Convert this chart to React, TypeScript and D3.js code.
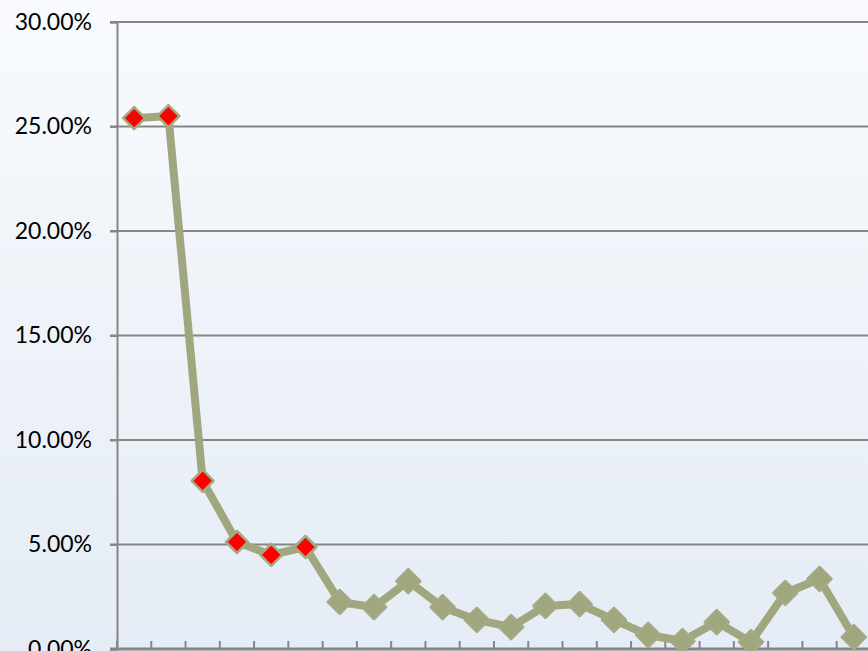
import React, { useEffect, useRef } from 'react';
import * as d3 from 'd3';

// categories are unlabeled in the picture, just indices
const categories = d3.range(1, 23).map((i) => `c${i}`);
const values = [
	25.4, 25.5, 8.04, 5.12, 4.5, 4.88, 2.25, 2.0, 3.25, 2.0, 1.39, 1.05, 2.06, 2.15, 1.39, 0.67,
	0.38, 1.29, 0.33, 2.68, 3.35, 0.57,
];
const highlighted = [true, true, true, true, true, true];
const yTicks = [0, 5, 10, 15, 20, 25, 30];

function App() {
	const ref = useRef<SVGSVGElement>(null);

	useEffect(() => {
		const width = 868;
		const height = 651;
		const margin = { top: 22, left: 117, bottom: 2 };

		const svg = d3.select(ref.current);
		svg.selectAll('*').remove();

		// background gradient
		const defs = svg.append('defs');
		const grad = defs
			.append('linearGradient')
			.attr('id', 'bg')
			.attr('x1', 0)
			.attr('y1', 0)
			.attr('x2', 0)
			.attr('y2', 1);
		grad.append('stop').attr('offset', '0%').attr('stop-color', '#f8fafd');
		grad.append('stop').attr('offset', '100%').attr('stop-color', '#e5ecf5');
		svg.append('rect').attr('width', width).attr('height', height).attr('fill', 'url(#bg)');

		// Scales
		const xscale = d3
			.scaleBand()
			.domain(categories)
			.range([margin.left, margin.left + 34.27 * categories.length]);

		const yscale = d3
			.scaleLinear()
			.domain([0, 30])
			.range([height - margin.bottom, margin.top]);

		// gridlines
		svg
			.append('g')
			.selectAll('line')
			.data(yTicks.filter((t) => t > 0))
			.enter()
			.append('line')
			.attr('x1', margin.left - 7)
			.attr('x2', width)
			.attr('y1', (d) => yscale(d))
			.attr('y2', (d) => yscale(d))
			.attr('stroke', '#868686')
			.attr('stroke-width', 2);

		// y axis
		const leftAxis = d3
			.axisLeft(yscale)
			.tickValues(yTicks)
			.tickSize(7)
			.tickPadding(18)
			.tickFormat((d) => `${(+d).toFixed(2)}%`);

		const yAxisG = svg
			.append('g')
			.attr('transform', `translate(${margin.left}, 0)`)
			.call(leftAxis);
		yAxisG.select('.domain').attr('stroke', '#868686').attr('stroke-width', 2);
		yAxisG.selectAll('.tick line').attr('stroke', '#868686').attr('stroke-width', 2);
		yAxisG
			.selectAll('.tick text')
			.attr('fill', '#000')
			.style('font-family', 'Lato, sans-serif')
			.style('font-size', '23px');

		// x axis, ticks pointing up, no labels
		const xTickVals = d3.range(categories.length + 1).map((i) => margin.left + i * xscale.step());
		const xAxisG = svg.append('g');
		xAxisG
			.append('line')
			.attr('x1', margin.left - 7)
			.attr('x2', width)
			.attr('y1', yscale(0))
			.attr('y2', yscale(0))
			.attr('stroke', '#868686')
			.attr('stroke-width', 3);
		xAxisG
			.selectAll('line.tick')
			.data(xTickVals)
			.enter()
			.append('line')
			.attr('class', 'tick')
			.attr('x1', (d) => d)
			.attr('x2', (d) => d)
			.attr('y1', yscale(0))
			.attr('y2', yscale(0) - 8)
			.attr('stroke', '#868686')
			.attr('stroke-width', 2);

		// Line
		const line = d3
			.line<number>()
			.x((d, i) => (xscale(categories[i]) as number) + xscale.bandwidth() / 2)
			.y((d) => yscale(d));

		svg
			.append('path')
			.datum(values)
			.attr('d', line)
			.attr('fill', 'none')
			.attr('stroke', '#a0a67e')
			.attr('stroke-width', 8)
			.attr('stroke-linejoin', 'round');

		// diamonds
		svg
			.append('g')
			.selectAll('path')
			.data(values)
			.enter()
			.append('path')
			.attr('transform', (d, i) => `translate(${(xscale(categories[i]) as number) + xscale.bandwidth() / 2}, ${yscale(d)})`)
			.attr('d', (d, i) => {
				const s = highlighted[i] ? 11 : 12;
				return `M0,${-s}L${s},0L0,${s}L${-s},0Z`;
			})
			.attr('fill', (d, i) => (highlighted[i] ? '#ff0000' : '#a0a67e'))
			.attr('stroke', '#a3a982')
			.attr('stroke-width', 2.5)
			.attr('stroke-linejoin', 'round');
	}, []);

	return (
		<svg
			ref={ref}
			width={868}
			height={651}
			style={{ position: 'fixed', left: 0, top: 0, display: 'block' }}
		></svg>
	);
}

export default App;
